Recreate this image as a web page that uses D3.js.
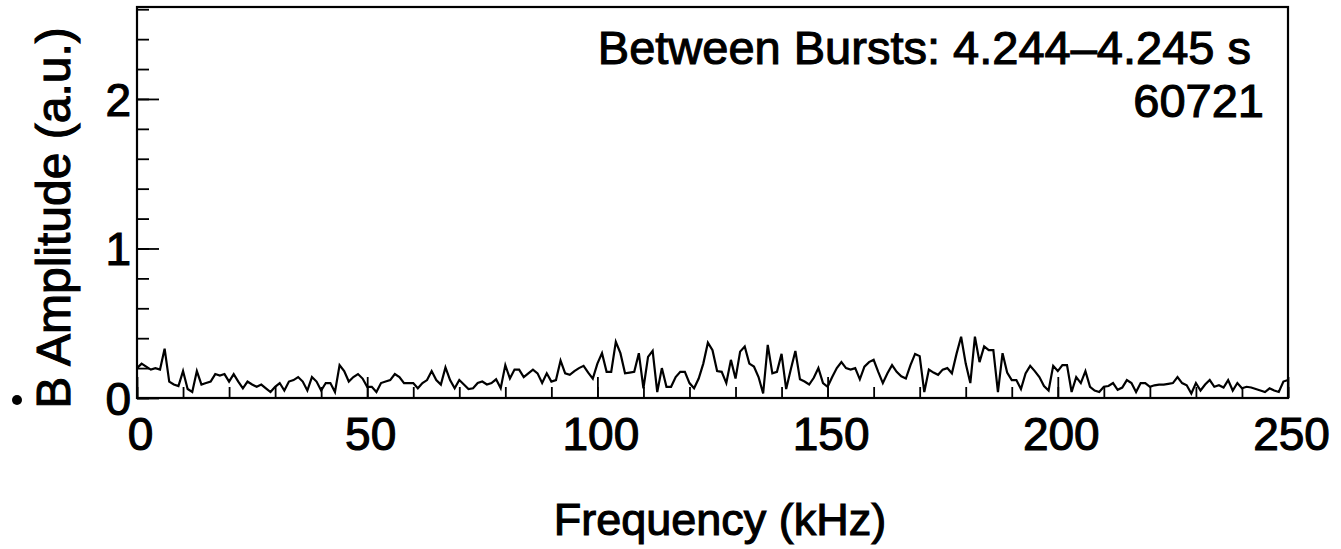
<!DOCTYPE html>
<html>
<head>
<meta charset="utf-8">
<script src="https://cdn.jsdelivr.net/npm/d3@7"></script>
<style>
  body { margin: 0; background: #fff; }
  text { font-family: "Liberation Sans", Arial, sans-serif; fill: #000; stroke: #000; stroke-width: 1.1px; }
</style>
</head>
<body>
<div class="canvas"></div>
<script>
// amplitude per 1 kHz bin, 0..250 kHz
const amplitude = [
  0.20, 0.23, 0.21, 0.19, 0.20, 0.19, 0.33, 0.11, 0.09, 0.08,
  0.18, 0.06, 0.04, 0.18, 0.09, 0.10, 0.11, 0.16, 0.15, 0.16,
  0.11, 0.16, 0.11, 0.065, 0.11, 0.09, 0.075, 0.09, 0.065, 0.04,
  0.075, 0.10, 0.05, 0.11, 0.12, 0.14, 0.11, 0.05, 0.14, 0.11,
  0.05, 0.10, 0.10, 0.04, 0.22, 0.18, 0.11, 0.14, 0.16, 0.13,
  0.075, 0.075, 0.04, 0.10, 0.11, 0.12, 0.16, 0.14, 0.10, 0.10,
  0.10, 0.065, 0.10, 0.12, 0.18, 0.12, 0.09, 0.205, 0.12, 0.065,
  0.12, 0.09, 0.06, 0.065, 0.10, 0.11, 0.09, 0.10, 0.125, 0.065,
  0.22, 0.13, 0.19, 0.19, 0.14, 0.165, 0.19, 0.165, 0.10, 0.165,
  0.11, 0.12, 0.25, 0.165, 0.155, 0.18, 0.20, 0.215, 0.17, 0.13,
  0.23, 0.30, 0.175, 0.175, 0.375, 0.30, 0.165, 0.17, 0.175, 0.30,
  0.065, 0.275, 0.315, 0.04, 0.20, 0.075, 0.075, 0.14, 0.175, 0.175,
  0.10, 0.065, 0.13, 0.23, 0.37, 0.32, 0.18, 0.175, 0.10, 0.255,
  0.13, 0.31, 0.345, 0.23, 0.21, 0.14, 0.03, 0.355, 0.165, 0.175,
  0.295, 0.06, 0.19, 0.315, 0.125, 0.11, 0.09, 0.135, 0.20, 0.10,
  0.075, 0.14, 0.20, 0.24, 0.20, 0.19, 0.20, 0.125, 0.21, 0.24,
  0.255, 0.175, 0.10, 0.165, 0.22, 0.175, 0.145, 0.13, 0.22, 0.295,
  0.28, 0.04, 0.19, 0.17, 0.155, 0.19, 0.20, 0.165, 0.295, 0.41,
  0.23, 0.10, 0.41, 0.24, 0.345, 0.32, 0.32, 0.04, 0.30, 0.17,
  0.12, 0.12, 0.06, 0.165, 0.215, 0.18, 0.14, 0.08, 0.05, 0.215,
  0.18, 0.22, 0.22, 0.04, 0.14, 0.10, 0.18, 0.075, 0.05, 0.04,
  0.075, 0.08, 0.10, 0.055, 0.07, 0.12, 0.10, 0.04, 0.10, 0.10,
  0.075, 0.085, 0.09, 0.09, 0.095, 0.10, 0.14, 0.10, 0.085, 0.03,
  0.10, 0.05, 0.09, 0.12, 0.075, 0.085, 0.07, 0.12, 0.05, 0.10,
  0.065, 0.075, 0.07, 0.06, 0.05, 0.04, 0.065, 0.05, 0.04, 0.11, 0.12
];
const frequency = amplitude.map((d, i) => i); // kHz, 1 kHz bins

const xMajorTicks = [0, 50, 100, 150, 200, 250];
const xMinorTicks = d3.range(0, 251, 10);
const yMajorTicks = [0, 1, 2];
const yMinorTicks = d3.range(0, 2.61, 0.2);

const titleLine1 = "Between Bursts: 4.244\u20134.245 s";
const titleLine2 = "60721";
const xLabel = "Frequency (kHz)";
const yLabel = "B Amplitude (a.u.)";

const width = 1341;
const height = 549;
const marginTop = 7;
const marginRight = 53;
const marginBottom = 151;
const marginLeft = 137;

const x = d3.scaleLinear()
            .domain([0, 250])
            .range([marginLeft, width - marginRight]);

const y = d3.scaleLinear()
            .domain([0, 2.615])
            .range([height - marginBottom, marginTop]);

const svg = d3.select(".canvas").append("svg")
              .attr("width", width)
              .attr("height", height);

function translate(x, y) {
  return "translate(" + x + ", " + y + ")";
}

// data line
const line = d3.line()
               .x((d, i) => x(frequency[i]))
               .y(d => y(d));

svg.append("path")
   .datum(amplitude)
   .attr("d", line)
   .attr("fill", "none")
   .attr("stroke", "#000")
   .attr("stroke-width", 2.2)
   .attr("stroke-linejoin", "miter");

// bottom axis: ticks point inward (up)
const xMinor = d3.axisBottom(x).tickValues(xMinorTicks).tickSize(-11).tickFormat("");
const xMajor = d3.axisBottom(x).tickValues(xMajorTicks).tickSize(-21).tickPadding(19);

svg.append("g").attr("transform", translate(0, y(0))).call(xMinor);
const gx = svg.append("g").attr("transform", translate(0, y(0))).call(xMajor);
gx.selectAll("text")
  .attr("font-size", 46)
  .attr("dx", 3);

// left axis: ticks point inward (right)
const yMinor = d3.axisLeft(y).tickValues(yMinorTicks).tickSize(-12).tickFormat("");
const yMajor = d3.axisLeft(y).tickValues(yMajorTicks).tickSize(-22).tickPadding(6).tickFormat(d3.format("d"));

svg.append("g").attr("transform", translate(marginLeft, 0)).call(yMinor);
const gy = svg.append("g").attr("transform", translate(marginLeft, 0)).call(yMajor);
gy.selectAll("text")
  .attr("font-size", 46)
  .attr("dy", "0.35em");

svg.selectAll(".domain").remove();
svg.selectAll(".tick line").attr("stroke", "#000").attr("stroke-width", 1.8);

// frame
svg.append("rect")
   .attr("x", x(0))
   .attr("y", y(2.615))
   .attr("width", x(250) - x(0))
   .attr("height", y(0) - y(2.615))
   .attr("fill", "none")
   .attr("stroke", "#000")
   .attr("stroke-width", 2.2);

// annotation
svg.append("text")
   .attr("x", 1251)
   .attr("y", 64)
   .attr("text-anchor", "end")
   .attr("font-size", 47)
   .text(titleLine1);

svg.append("text")
   .attr("x", 1264)
   .attr("y", 117)
   .attr("text-anchor", "end")
   .attr("font-size", 47)
   .text(titleLine2);

// axis titles
svg.append("text")
   .attr("x", 720)
   .attr("y", 535)
   .attr("text-anchor", "middle")
   .attr("font-size", 45)
   .text(xLabel);

svg.append("text")
   .attr("transform", translate(70, 218) + " rotate(-90)")
   .attr("text-anchor", "middle")
   .attr("font-size", 48)
   .text(yLabel);

// the dot of B-dot
svg.append("circle")
   .attr("cx", 17)
   .attr("cy", 400)
   .attr("r", 5)
   .attr("fill", "#000");
</script>
</body>
</html>
